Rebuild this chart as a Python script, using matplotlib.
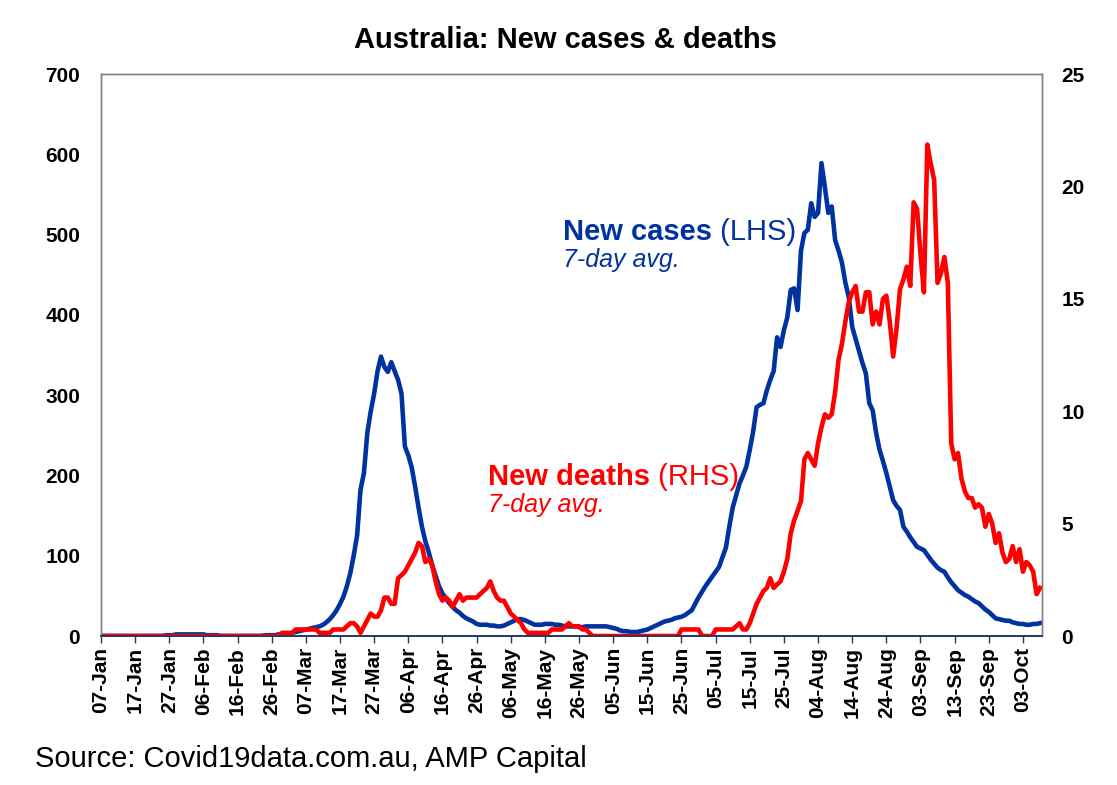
import numpy as np
import pandas as pd
import matplotlib
matplotlib.use("Agg")
import matplotlib.pyplot as plt
import matplotlib.dates as mdates

plt.rcParams['font.family'] = ['Liberation Sans', 'DejaVu Sans']

# --- Data (7-day averages) ---
start_date = '2020-01-07'

new_cases = [
    0, 0, 0, 0, 0, 0, 0, 0, 0, 0,
    0, 0, 0, 0, 0, 0, 0, 0, 0, 1,
    1, 1, 2, 2, 2, 2, 2, 2, 2, 2,
    2, 1, 1, 1, 1, 0, 0, 0, 0, 0,
    0, 0, 0, 0, 0, 0, 0, 0, 1, 1,
    1, 1, 2, 2, 3, 3, 4, 5, 6, 7,
    8, 9, 10, 11, 12, 14, 17, 21, 26, 32,
    40, 49, 62, 78, 100, 125, 182, 203, 253, 280,
    302, 330, 348, 335, 329, 341, 330, 319, 302, 236,
    225, 210, 186, 160, 136, 118, 104, 88, 75, 62,
    53, 47, 41, 36, 32, 29, 25, 22, 20, 18,
    15, 14, 14, 14, 13, 13, 12, 12, 13, 15,
    17, 19, 21, 21, 20, 18, 16, 14, 14, 14,
    15, 15, 15, 14, 14, 13, 12, 12, 12, 12,
    11, 11, 12, 12, 12, 12, 12, 12, 12, 11,
    10, 9, 7, 6, 6, 5, 5, 5, 6, 7,
    8, 10, 12, 14, 16, 18, 19, 20, 22, 23,
    24, 26, 29, 32, 40, 48, 55, 62, 68, 74,
    80, 86, 98, 110, 136, 160, 175, 190, 200, 211,
    232, 255, 285, 288, 290, 306, 319, 330, 372, 360,
    381, 397, 431, 433, 406, 480, 502, 506, 539, 522,
    527, 589, 559, 527, 535, 493, 480, 465, 440, 422,
    385, 370, 355, 340, 327, 290, 281, 253, 232, 218,
    203, 186, 169, 162, 157, 136, 130, 123, 117, 111,
    109, 107, 101, 95, 90, 85, 82, 80, 73, 67,
    62, 57, 54, 51, 49, 46, 43, 41, 37, 33,
    30, 26, 22, 21, 20, 19, 19, 17, 16, 15,
    15, 14, 14, 15, 15, 16,
]

new_deaths = [
    0, 0, 0, 0, 0, 0, 0, 0, 0, 0,
    0, 0, 0, 0, 0, 0, 0, 0, 0, 0,
    0, 0, 0, 0, 0, 0, 0, 0, 0, 0,
    0, 0, 0, 0, 0, 0, 0, 0, 0, 0,
    0, 0, 0, 0, 0, 0, 0, 0, 0, 0,
    0, 0, 0, 0.14, 0.14, 0.14, 0.14, 0.29, 0.29, 0.29,
    0.29, 0.29, 0.29, 0.29, 0.14, 0.14, 0.14, 0.14, 0.29, 0.29,
    0.29, 0.29, 0.43, 0.57, 0.57, 0.43, 0.14, 0.43, 0.71, 1.0,
    0.86, 0.86, 1.14, 1.71, 1.71, 1.43, 1.43, 2.57, 2.71, 2.86,
    3.14, 3.43, 3.71, 4.14, 4.0, 3.29, 3.43, 3.14, 2.43, 1.86,
    1.57, 1.71, 1.57, 1.29, 1.57, 1.86, 1.57, 1.71, 1.71, 1.71,
    1.71, 1.86, 2.0, 2.14, 2.43, 2.0, 1.71, 1.57, 1.57, 1.29,
    1.0, 0.86, 0.71, 0.57, 0.29, 0.14, 0.14, 0.14, 0.14, 0.14,
    0.14, 0.14, 0.29, 0.29, 0.29, 0.29, 0.43, 0.57, 0.43, 0.43,
    0.43, 0.29, 0.29, 0.14, 0, 0, 0, 0, 0, 0,
    0, 0, 0, 0, 0, 0, 0, 0, 0, 0,
    0, 0, 0, 0, 0, 0, 0, 0, 0, 0,
    0.29, 0.29, 0.29, 0.29, 0.29, 0.29, 0, 0, 0, 0,
    0.29, 0.29, 0.29, 0.29, 0.29, 0.29, 0.43, 0.57, 0.29, 0.29,
    0.57, 1.0, 1.43, 1.71, 2.0, 2.14, 2.57, 2.14, 2.29, 2.43,
    2.86, 3.43, 4.57, 5.14, 5.57, 6.0, 7.86, 8.14, 7.86, 7.57,
    8.57, 9.29, 9.86, 9.71, 9.86, 10.86, 12.29, 13.0, 14.0, 14.86,
    15.29, 15.57, 14.43, 14.43, 15.29, 15.29, 13.86, 14.43, 13.86, 15.0,
    15.14, 14.0, 12.43, 13.71, 15.43, 15.86, 16.43, 15.57, 19.29, 19.0,
    17.0, 15.29, 21.86, 21.0, 20.29, 15.71, 16.14, 16.86, 15.71, 8.57,
    7.86, 8.14, 7.0, 6.43, 6.14, 6.14, 5.71, 5.86, 5.71, 4.86,
    5.43, 5.0, 4.14, 4.57, 3.71, 3.29, 3.43, 4.0, 3.29, 3.86,
    2.86, 3.29, 3.14, 2.86, 1.86, 2.14,
]

dates = pd.date_range(start_date, periods=len(new_cases), freq='D')

blue = '#0033A0'
red = '#FF0000'
frame = '#808080'

# --- Figure ---
W, H = 1117, 785
fig = plt.figure(figsize=(W / 100, H / 100), dpi=100)
ax = fig.add_axes([101 / W, 1 - 636 / H, (1042 - 101) / W, (636 - 74) / H])
ax2 = ax.twinx()

ax.plot(dates, new_cases, color=blue, lw=3.3, solid_joinstyle='round')
ax2.plot(dates, new_deaths, color=red, lw=3.3, solid_joinstyle='round')

ax.set_ylim(0, 700)
ax.set_yticks(range(0, 701, 100))
ax2.set_ylim(0, 25)
ax2.set_yticks(range(0, 26, 5))
ax.set_xlim(dates[0], dates[-1] + pd.Timedelta(hours=14))

ax.set_xticks(dates[::10])
ax.xaxis.set_major_formatter(mdates.DateFormatter('%d-%b'))
for lab in ax.get_xticklabels():
    lab.set_rotation(90)
    lab.set_fontweight('bold')
    lab.set_fontsize(15)

ax.tick_params(axis='x', direction='out', length=5, width=1, color='#1F3864', pad=3)
ax.tick_params(axis='y', length=0, pad=15, labelsize=15)
ax2.tick_params(axis='y', length=0, pad=14, labelsize=15)
for lab in ax.get_yticklabels() + ax2.get_yticklabels():
    lab.set_fontweight('bold')

for a in (ax, ax2):
    for side in ('left', 'right', 'top'):
        a.spines[side].set_color(frame)
        a.spines[side].set_linewidth(1)
    a.spines['bottom'].set_color('#1F3864')
    a.spines['bottom'].set_linewidth(1.2)

# --- Texts ---
fig.text(565 / W, 1 - 48 / H, 'Australia: New cases & deaths', ha='center',
         va='baseline', fontsize=21, fontweight='bold')
fig.text(35 / W, 1 - 767 / H, 'Source: Covid19data.com.au, AMP Capital',
         ha='left', va='baseline', fontsize=21)

t1 = fig.text(563 / W, 1 - 240 / H, 'New cases', color=blue, fontsize=21,
              fontweight='bold', va='baseline')
fig.text(563 / W, 1 - 267 / H, '7-day avg.', color=blue, fontsize=18,
         fontstyle='italic', va='baseline')
t3 = fig.text(488 / W, 1 - 485 / H, 'New deaths', color=red, fontsize=21,
              fontweight='bold', va='baseline')
fig.text(488 / W, 1 - 512 / H, '7-day avg.', color=red, fontsize=18,
         fontstyle='italic', va='baseline')

fig.canvas.draw()
renderer = fig.canvas.get_renderer()
bb1 = t1.get_window_extent(renderer)
bb3 = t3.get_window_extent(renderer)
fig.text(bb1.x1 / W, 1 - 240 / H, ' (LHS)', color=blue, fontsize=21, va='baseline')
fig.text(bb3.x1 / W, 1 - 485 / H, ' (RHS)', color=red, fontsize=21, va='baseline')

fig.savefig('out.png', dpi=100)
